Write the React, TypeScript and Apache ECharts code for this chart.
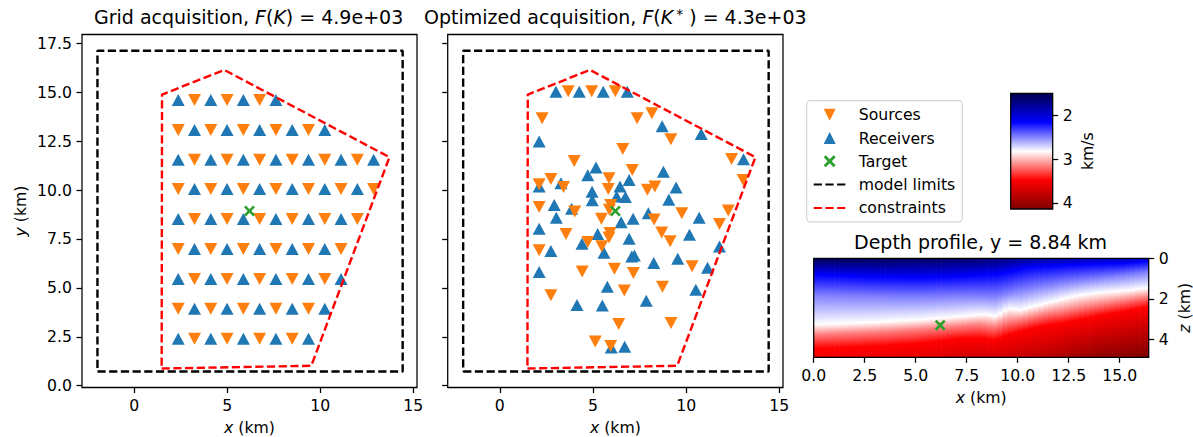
import React, { useEffect, useRef } from "react";
import * as echarts from "echarts";

const FONT = "DejaVu Sans";

// ---- data (km) -----
const modelLimits = [[-1.97, 0.73], [14.43, 0.73], [14.43, 17.12], [-1.97, 17.12], [-1.97, 0.73]];
const constraints = [[1.48, 0.88], [9.52, 1.02], [13.72, 11.68], [4.84, 16.14], [1.5, 14.88], [1.48, 0.88]];
const targetXY = [[6.2, 8.93]];
const targetXZ = [[6.2, 3.29]];

const gridReceivers = [
  [2.37, 2.4], [4.12, 2.4], [5.87, 2.4], [7.62, 2.4], [9.37, 2.4],
  [3.245, 3.93], [4.995, 3.93], [6.745, 3.93], [8.495, 3.93], [10.245, 3.93],
  [2.37, 5.46], [4.12, 5.46], [5.87, 5.46], [7.62, 5.46], [9.37, 5.46], [11.12, 5.46],
  [3.245, 6.99], [4.995, 6.99], [6.745, 6.99], [8.495, 6.99], [10.245, 6.99],
  [2.37, 8.52], [4.12, 8.52], [5.87, 8.52], [7.62, 8.52], [9.37, 8.52], [11.12, 8.52],
  [3.245, 10.05], [4.995, 10.05], [6.745, 10.05], [8.495, 10.05], [10.245, 10.05], [11.995, 10.05],
  [2.37, 11.55], [4.12, 11.55], [5.87, 11.55], [7.62, 11.55], [9.37, 11.55], [11.12, 11.55], [12.87, 11.55],
  [3.245, 13.07], [4.995, 13.07], [6.745, 13.07], [8.495, 13.07], [10.245, 13.07],
  [2.37, 14.6], [4.12, 14.6], [5.87, 14.6], [7.62, 14.6],
];
const gridSources = [
  [3.245, 2.4], [4.995, 2.4], [6.745, 2.4], [8.495, 2.4],
  [2.37, 3.93], [4.12, 3.93], [5.87, 3.93], [7.62, 3.93], [9.37, 3.93],
  [3.245, 5.46], [4.995, 5.46], [6.745, 5.46], [8.495, 5.46], [10.245, 5.46],
  [2.37, 6.99], [4.12, 6.99], [5.87, 6.99], [7.62, 6.99], [9.37, 6.99], [11.12, 6.99],
  [3.245, 8.52], [4.995, 8.52], [6.745, 8.52], [8.495, 8.52], [10.245, 8.52], [11.995, 8.52],
  [2.37, 10.05], [4.12, 10.05], [5.87, 10.05], [7.62, 10.05], [9.37, 10.05], [11.12, 10.05], [12.87, 10.05],
  [3.245, 11.55], [4.995, 11.55], [6.745, 11.55], [8.495, 11.55], [10.245, 11.55], [11.995, 11.55],
  [2.37, 13.07], [4.12, 13.07], [5.87, 13.07], [7.62, 13.07], [9.37, 13.07],
  [3.245, 14.6], [4.995, 14.6], [6.745, 14.6],
];
const optReceivers = [
  [3.01, 15.03], [4.26, 15.03], [5.55, 15.03], [6.84, 15.03], [2.11, 12.48], [5.16, 11.15], [4.72, 10.76],
  [2.11, 10.18], [3.28, 10.35], [4.95, 9.92], [4.96, 9.48], [6.45, 10.18], [6.94, 10.51], [6.27, 9.67],
  [6.74, 9.64], [2.92, 9.24], [3.85, 9.04], [3.03, 8.58], [6.51, 8.35], [7.15, 8.53], [7.97, 8.82],
  [2.11, 8.02], [5.25, 7.76], [6.94, 7.51], [4.41, 7.25], [5.59, 6.79], [2.74, 6.89], [7.08, 6.6],
  [7.22, 6.65], [2.11, 5.81], [8.26, 6.27], [5.77, 5.06], [4.14, 4.12], [5.5, 4.1], [7.86, 4.34],
  [5.98, 1.96], [6.7, 1.99], [8.71, 13.26], [10.81, 12.87], [13.08, 11.58], [8.78, 10.93], [9.46, 10.13],
  [9.07, 9.5], [10.7, 8.58], [10.18, 7.71], [11.79, 7.11], [9.55, 6.49], [11.15, 6.03], [10.52, 4.9],
];
const optSources = [
  [3.67, 15.05], [4.93, 15.05], [6.2, 15.05], [2.27, 13.67], [7.37, 13.67], [8.16, 13.93], [9.18, 12.6],
  [6.6, 12.1], [3.99, 11.48], [7.11, 11.03], [5.86, 10.61], [5.82, 10.05], [2.11, 10.3], [2.74, 10.57],
  [3.42, 10.16], [7.92, 10.01], [8.32, 10.18], [2.11, 9.14], [4.02, 8.9], [5.95, 9.24], [5.88, 8.99],
  [5.45, 8.54], [8.28, 8.49], [9.77, 8.82], [12.26, 8.95], [11.79, 8.27], [12.44, 11.59], [13.06, 10.51],
  [3.55, 7.76], [5.91, 7.8], [5.86, 7.57], [4.72, 7.34], [5.47, 7.13], [2.11, 6.93], [4.42, 5.84],
  [6.15, 5.98], [7.17, 5.76], [6.68, 4.87], [2.74, 4.63], [6.38, 3.15], [5.12, 2.26], [5.95, 2.03],
  [8.69, 7.83], [9.14, 7.39], [10.32, 6.11], [8.73, 5.06], [9.19, 3.2],
];

// Depth profile: for each 0.25 km column, depth (km) at which the velocity reaches a colour-scale level.
const columnStep = 0.25;
const profileXMax = 16.42;
const profileZMax = 4.87;
const depthBlue = [
  .82, .83, .84, .85, .86, .87, .88, .89, .9, .91, .92, .92, .93, .93, .94, .94,
  .94, .94, .95, .95, .95, .95, .94, .94, .93, .93, .92, .91, .9, .88, .87, .85,
  .84, .83, .82, .8, .77, .72, .66, .6, .54, .49, .46, .43, .42, .4, .38, .37,
  .35, .34, .33, .32, .31, .3, .29, .28, .28, .27, .26, .26, .25, .23, .21, .19, .17, .16,
];
const depthLightBlue = [
  1.8, 1.8, 1.81, 1.82, 1.83, 1.83, 1.84, 1.85, 1.85, 1.86, 1.87, 1.87, 1.88, 1.88, 1.89, 1.89,
  1.89, 1.9, 1.9, 1.9, 1.9, 1.9, 1.89, 1.89, 1.88, 1.88, 1.87, 1.86, 1.85, 1.85, 1.84, 1.85,
  1.86, 1.87, 1.88, 1.87, 1.82, 1.76, 1.69, 1.62, 1.56, 1.51, 1.46, 1.41, 1.37, 1.33, 1.29, 1.25,
  1.21, 1.17, 1.13, 1.1, 1.07, 1.04, 1.01, .98, .95, .92, .9, .87, .84, .81, .78, .75, .71, .67,
];
const depthWhite = [
  3.25, 3.25, 3.24, 3.23, 3.22, 3.21, 3.2, 3.19, 3.18, 3.17, 3.16, 3.15, 3.14, 3.12, 3.11, 3.1,
  3.08, 3.07, 3.06, 3.04, 3.03, 3.01, 2.99, 2.97, 2.95, 2.93, 2.91, 2.89, 2.87, 2.85, 2.82, 2.8,
  2.77, 2.76, 2.8, 2.84, 2.72, 2.56, 2.48, 2.51, 2.54, 2.48, 2.41, 2.34, 2.28, 2.21, 2.15, 2.09,
  2.02, 1.96, 1.9, 1.85, 1.8, 1.77, 1.74, 1.71, 1.68, 1.66, 1.64, 1.62, 1.6, 1.58, 1.55, 1.52, 1.5, 1.47,
];
const depthPink = [
  3.75, 3.74, 3.73, 3.72, 3.71, 3.7, 3.69, 3.68, 3.67, 3.66, 3.65, 3.64, 3.63, 3.61, 3.6, 3.58,
  3.57, 3.55, 3.54, 3.52, 3.5, 3.48, 3.46, 3.44, 3.42, 3.4, 3.38, 3.36, 3.34, 3.32, 3.3, 3.28,
  3.28, 3.3, 3.34, 3.36, 3.28, 3.17, 3.1, 3.07, 3.03, 2.97, 2.91, 2.85, 2.79, 2.74, 2.69, 2.65,
  2.62, 2.57, 2.52, 2.47, 2.42, 2.37, 2.33, 2.29, 2.25, 2.21, 2.17, 2.13, 2.09, 2.05, 2.01, 1.97, 1.94, 1.91,
];
const depthRed = [
  4.43, 4.43, 4.42, 4.41, 4.4, 4.39, 4.38, 4.37, 4.36, 4.35, 4.34, 4.33, 4.32, 4.3, 4.29, 4.27,
  4.26, 4.24, 4.23, 4.21, 4.18, 4.16, 4.13, 4.11, 4.08, 4.05, 4.02, 3.98, 3.96, 3.94, 3.93, 3.92,
  3.92, 3.94, 3.98, 4.0, 3.93, 3.83, 3.74, 3.67, 3.6, 3.54, 3.47, 3.41, 3.35, 3.3, 3.25, 3.22,
  3.2, 3.15, 3.1, 3.05, 3.0, 2.95, 2.9, 2.85, 2.8, 2.75, 2.71, 2.67, 2.63, 2.58, 2.53, 2.48, 2.43, 2.38,
];
const surfaceVelocity = [
  1.5, 1.5, 1.5, 1.5, 1.51, 1.51, 1.51, 1.52, 1.52, 1.52, 1.53, 1.53, 1.53, 1.54, 1.54, 1.54,
  1.55, 1.55, 1.55, 1.56, 1.56, 1.56, 1.57, 1.57, 1.57, 1.58, 1.58, 1.58, 1.59, 1.59, 1.6, 1.6,
  1.61, 1.62, 1.63, 1.64, 1.65, 1.67, 1.68, 1.7, 1.72, 1.73, 1.74, 1.75, 1.76, 1.77, 1.78, 1.79,
  1.8, 1.81, 1.82, 1.82, 1.83, 1.83, 1.84, 1.84, 1.85, 1.85, 1.86, 1.86, 1.87, 1.87, 1.88, 1.88, 1.89, 1.9,
];
const bottomVelocity = [
  3.5, 3.5, 3.51, 3.51, 3.52, 3.52, 3.53, 3.53, 3.54, 3.54, 3.55, 3.55, 3.56, 3.56, 3.57, 3.57,
  3.58, 3.58, 3.59, 3.6, 3.61, 3.62, 3.63, 3.64, 3.65, 3.66, 3.67, 3.68, 3.69, 3.7, 3.71, 3.72,
  3.73, 3.73, 3.72, 3.72, 3.73, 3.74, 3.75, 3.76, 3.78, 3.79, 3.81, 3.82, 3.83, 3.85, 3.86, 3.88,
  3.9, 3.92, 3.95, 3.97, 3.99, 4.01, 4.03, 4.05, 4.06, 4.07, 4.08, 4.09, 4.1, 4.11, 4.12, 4.13, 4.14, 4.14,
];

const colourVelocities = [1.49, 2.1525, 2.815, 3.4775, 4.14];
const colourRGB = [[0, 0, 77], [0, 0, 255], [255, 255, 255], [255, 0, 0], [128, 0, 0]];
const colourbarRange = [[1.49, 4.14]];

const xTicks = [0, 5, 10, 15];
const yTicks = [0, 2.5, 5, 7.5, 10, 12.5, 15, 17.5];
const profileXTicks = [0, 2.5, 5, 7.5, 10, 12.5, 15];
const profileZTicks = [0, 2, 4];
const colourTicks = [2, 3, 4];

const SOURCE_COLOR = "#ff7f0e";
const RECEIVER_COLOR = "#1f77b4";
const TARGET_COLOR = "#2ca02c";
const DOWN = "path://M0,0 L10,0 L5,10 Z";
const UP = "path://M5,0 L10,10 L0,10 Z";
const CROSS = "path://M1.7,0 L5,3.3 L8.3,0 L10,1.7 L6.7,5 L10,8.3 L8.3,10 L5,6.7 L1.7,10 L0,8.3 L3.3,5 L0,1.7 Z";
const TICK = 15.7;
const TITLE = 19;
const tickStyle = { color: "#000", width: 1.26 };
const spine = { show: true, borderColor: "#000", borderWidth: 1.26, backgroundColor: "transparent", outerBoundsMode: "none" };
const MARKER = [13, 12];
const DASH = [8.2, 3.5];

function velocityColor(v: number) {
  let i = 0;
  while (i < colourVelocities.length - 2 && v > colourVelocities[i + 1]) i++;
  const t = Math.max(0, Math.min(1, (v - colourVelocities[i]) / (colourVelocities[i + 1] - colourVelocities[i])));
  const c = colourRGB[i].map((a, k) => Math.round(a + (colourRGB[i + 1][k] - a) * t));
  return `rgb(${c[0]},${c[1]},${c[2]})`;
}

const profileRows = depthWhite.map((w, i) => [
  i * columnStep,
  Math.min((i + 1) * columnStep, profileXMax),
  depthBlue[i], depthLightBlue[i], w, depthPink[i], depthRed[i],
  surfaceVelocity[i], bottomVelocity[i],
]);

function renderColumn(_p: any, api: any) {
  const x0 = api.value(0);
  const x1 = api.value(1);
  const tl = api.coord([x0, 0]);
  const br = api.coord([x1, profileZMax]);
  const levels = [
    [api.value(2), velocityColor(colourVelocities[1])],
    [api.value(3), velocityColor((colourVelocities[1] + colourVelocities[2]) / 2)],
    [api.value(4), velocityColor(colourVelocities[2])],
    [api.value(5), velocityColor((colourVelocities[2] + colourVelocities[3]) / 2)],
    [api.value(6), velocityColor(colourVelocities[3])],
  ];
  const colorStops = [
    { offset: 0, color: velocityColor(api.value(7)) },
    ...levels.map(([z, c]) => ({ offset: (z as number) / profileZMax, color: c as string })),
    { offset: 1, color: velocityColor(api.value(8)) },
  ];
  return {
    type: "rect",
    shape: { x: tl[0], y: tl[1], width: br[0] - tl[0] + 0.7, height: br[1] - tl[1] },
    style: { fill: new echarts.graphic.LinearGradient(0, 0, 0, 1, colorStops), stroke: null },
  };
}

function renderColourbar(_p: any, api: any) {
  const tl = api.coord([0, api.value(0)]);
  const br = api.coord([1, api.value(1)]);
  const span = api.value(1) - api.value(0);
  const colorStops = colourVelocities.map((v) => ({
    offset: (v - api.value(0)) / span,
    color: velocityColor(v),
  }));
  return {
    type: "rect",
    shape: { x: tl[0], y: tl[1], width: br[0] - tl[0], height: br[1] - tl[1] },
    style: { fill: new echarts.graphic.LinearGradient(0, 0, 0, 1, colorStops), stroke: null },
  };
}

const italicRich = {
  i: { fontStyle: "italic", fontFamily: FONT, fontSize: TICK, color: "#000" },
};

function valueAxis(extra: any) {
  return {
    type: "value",
    scale: true,
    splitLine: { show: false },
    axisLine: { show: false, onZero: false },
    ...extra,
  };
}

function ticksOf(values: number[], fmt?: (v: number) => string) {
  return {
    axisTick: { show: true, length: 5.5, lineStyle: tickStyle, customValues: values },
    axisLabel: fmt
      ? { show: true, fontSize: TICK, color: "#000", fontFamily: FONT, margin: 10, customValues: values, formatter: fmt }
      : { show: false },
  };
}

function nameOf(name: string, gap: number, rotate?: number) {
  return {
    name,
    nameLocation: "middle",
    nameGap: gap,
    nameRotate: rotate,
    nameTextStyle: { fontSize: TICK, fontFamily: FONT, color: "#000", rich: italicRich },
  };
}

function scatterSet(gridIndex: number, receivers: number[][], sources: number[][]) {
  return [
    {
      type: "scatter", name: "Receivers", xAxisIndex: gridIndex, yAxisIndex: gridIndex, data: receivers,
      symbol: "triangle", symbolSize: MARKER, z: 2, itemStyle: { color: RECEIVER_COLOR, opacity: 1 },
    },
    {
      type: "scatter", name: "Sources", xAxisIndex: gridIndex, yAxisIndex: gridIndex, data: sources,
      symbol: DOWN, symbolSize: MARKER, symbolKeepAspect: false, z: 3, itemStyle: { color: SOURCE_COLOR, opacity: 1 },
    },
    {
      type: "line", name: "model limits", xAxisIndex: gridIndex, yAxisIndex: gridIndex, data: modelLimits,
      symbol: "none", z: 4, color: "#000", lineStyle: { color: "#000", width: 2.4, type: DASH },
    },
    {
      type: "line", name: "constraints", xAxisIndex: gridIndex, yAxisIndex: gridIndex, data: constraints,
      symbol: "none", z: 4, color: "#ff0000", lineStyle: { color: "#ff0000", width: 2.4, type: DASH },
    },
    {
      type: "scatter", name: "Target", xAxisIndex: gridIndex, yAxisIndex: gridIndex, data: targetXY,
      symbol: CROSS, symbolSize: 11, z: 5, itemStyle: { color: TARGET_COLOR, opacity: 1 },
    },
  ];
}

const titleRich = {
  i: { fontStyle: "italic", fontFamily: FONT, fontSize: TITLE, color: "#000" },
  s: { fontFamily: FONT, fontSize: 14, color: "#000", verticalAlign: "top", padding: [0, 6, 0, 3] },
};

function titleOf(text: string, left: number, top: number) {
  return {
    text,
    left,
    top,
    padding: 0,
    textStyle: { fontFamily: FONT, fontSize: TITLE, fontWeight: "normal", color: "#000", rich: titleRich },
  };
}

const hiddenSymbol = { color: "transparent", borderColor: "transparent", borderWidth: 0 };

const option: any = {
  animation: false,
  backgroundColor: "#fff",
  textStyle: { fontFamily: FONT },
  title: [
    titleOf("Grid acquisition, {i|F}({i|K}) = 4.9e+03", 94, 7),
    titleOf("Optimized acquisition, {i|F}({i|K}{s|*}) = 4.3e+03", 424, 7),
    titleOf("Depth profile, y = 8.84 km", 854, 232),
  ],
  legend: {
    show: true,
    orient: "vertical",
    left: 806.7,
    top: 100.7,
    padding: [6, 7, 6, 6],
    itemWidth: 32,
    itemHeight: 12,
    itemGap: 7.3,
    borderColor: "#ccc",
    borderWidth: 1,
    borderRadius: 3,
    selectedMode: false,
    backgroundColor: "#fff",
    textStyle: { fontFamily: FONT, fontSize: TICK, color: "#000", padding: [0, 0, 0, 8] },
    data: [
      { name: "Sources", icon: DOWN },
      { name: "Receivers", icon: UP },
      { name: "Target", icon: CROSS },
      { name: "model limits", itemStyle: hiddenSymbol },
      { name: "constraints", itemStyle: hiddenSymbol },
    ],
  },
  grid: [
    { left: 82, top: 34.5, width: 335, height: 353, ...spine },
    { left: 447.7, top: 34.5, width: 335.3, height: 353, ...spine },
    { left: 813.7, top: 258.3, width: 335, height: 99, ...spine, z: 5 },
    { left: 1010.7, top: 93.3, width: 42, height: 115.7, ...spine, z: 5 },
  ],
  xAxis: [
    valueAxis({ gridIndex: 0, min: -2.8, max: 15.2, ...ticksOf(xTicks, (v) => String(v)), ...nameOf("{i|x} (km)", 32) }),
    valueAxis({ gridIndex: 1, min: -2.8, max: 15.2, ...ticksOf(xTicks, (v) => String(v)), ...nameOf("{i|x} (km)", 32) }),
    valueAxis({ gridIndex: 2, min: 0, max: profileXMax, ...ticksOf(profileXTicks, (v) => v.toFixed(1)), ...nameOf("{i|x} (km)", 32) }),
    valueAxis({ gridIndex: 3, min: 0, max: 1, show: false }),
  ],
  yAxis: [
    valueAxis({ gridIndex: 0, min: -0.09, max: 17.95, ...ticksOf(yTicks, (v) => v.toFixed(1)), ...nameOf("{i|y} (km)", 54, 90) }),
    valueAxis({ gridIndex: 1, min: -0.09, max: 17.95, ...ticksOf(yTicks) }),
    valueAxis({ gridIndex: 2, min: 0, max: profileZMax, inverse: true, position: "right", ...ticksOf(profileZTicks, (v) => String(v)), ...nameOf("{i|z} (km)", 28, 90) }),
    valueAxis({ gridIndex: 3, min: colourbarRange[0][0], max: colourbarRange[0][1], inverse: true, position: "right", ...ticksOf(colourTicks, (v) => String(v)), ...nameOf("km/s", 27, 90) }),
  ],
  series: [
    ...scatterSet(0, gridReceivers, gridSources),
    ...scatterSet(1, optReceivers, optSources),
    {
      type: "custom", name: "velocity", xAxisIndex: 2, yAxisIndex: 2, data: profileRows, silent: true,
      renderItem: renderColumn, clip: true, encode: { x: [0, 1], y: 2 }, z: 1,
    },
    {
      type: "scatter", name: "Target", xAxisIndex: 2, yAxisIndex: 2, data: targetXZ,
      symbol: CROSS, symbolSize: 11, z: 5, itemStyle: { color: TARGET_COLOR, opacity: 1 },
    },
    {
      type: "custom", name: "colourbar", xAxisIndex: 3, yAxisIndex: 3, data: colourbarRange, silent: true,
      renderItem: renderColourbar, encode: { y: [0, 1] }, z: 1,
    },
  ],
};

export default function App() {
  const ref = useRef<HTMLDivElement>(null);
  useEffect(() => {
    const chart = echarts.init(ref.current as HTMLDivElement, undefined, { renderer: "svg" });
    chart.setOption(option);
    return () => chart.dispose();
  }, []);
  return <div ref={ref} style={{ position: "absolute", left: 0, top: 0, width: 1193, height: 437 }} />;
}
